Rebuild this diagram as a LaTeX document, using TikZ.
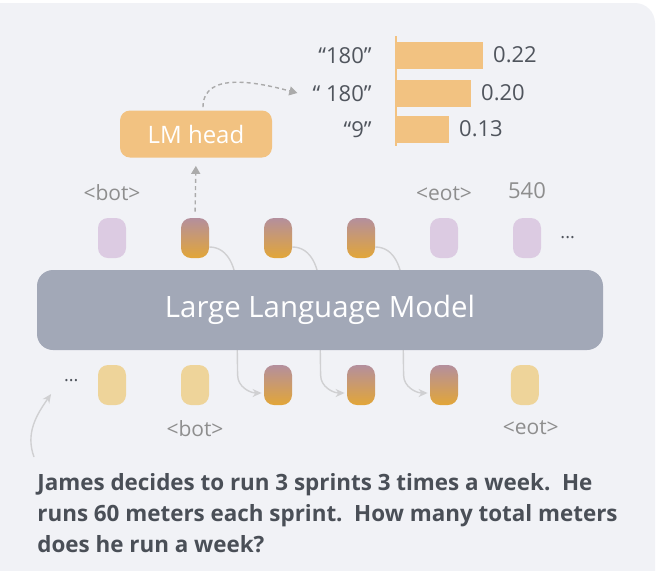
\documentclass[tikz,border=0pt]{standalone}
\usepackage{fontspec}
\setmainfont{Open Sans}
\usepackage{xcolor}
\usetikzlibrary{positioning, arrows.meta, calc}

\definecolor{bgcol}{HTML}{F1F2F6}
\definecolor{lavtok}{HTML}{DCCBE2}
\definecolor{yeltok}{HTML}{EED49A}
\definecolor{gradtop}{HTML}{B48F9D}
\definecolor{gradbot}{HTML}{E2A638}
\definecolor{llmcol}{HTML}{A2A8B7}
\definecolor{barcol}{HTML}{F2C281}
\definecolor{tagcol}{HTML}{8E8E8E}
\definecolor{valcol}{HTML}{50555D}
\definecolor{qcol}{HTML}{4A4F57}
\definecolor{flowcol}{HTML}{D0D0D2}
\definecolor{dashcol}{HTML}{ABABAB}

\begin{document}
\begin{tikzpicture}[
    x=0.5pt, y=-0.5pt,
    tok/.style={rounded corners=5pt, minimum width=14pt, minimum height=20pt, inner sep=0pt},
    plain/.style={tok, fill=lavtok},
    inp/.style={tok, fill=yeltok},
    hid/.style={tok, top color=gradtop, bottom color=gradbot},
    tag/.style={text=tagcol, font=\fontsize{10.5}{12}\selectfont, inner sep=0pt},
    val/.style={text=valcol, font=\fontsize{11}{13}\selectfont, inner sep=0pt},
    bar/.style={fill=barcol, minimum height=13.5pt, inner sep=0pt, anchor=west},
    flow/.style={-{Stealth[length=4.5pt, width=4pt]}, draw=flowcol, line width=0.7pt},
    dashflow/.style={-{Triangle[length=4pt, width=4.5pt]}, draw=dashcol, dash pattern=on 2pt off 1.6pt, line width=0.7pt}
]
\useasboundingbox (0,0) rectangle (660,570);
\fill[bgcol, rounded corners=10pt] (-20,3) rectangle (655,600);

% Model output tokens
\node[plain] (t1) at (112,238) {};
\node[hid, right=27.1pt of t1] (t2) {};
\node[hid, right=27.1pt of t2] (t3) {};
\node[hid, right=27.1pt of t3] (t4) {};
\node[plain, right=27.1pt of t4] (t5) {};
\node[plain, right=27.1pt of t5] (t6) {};
\node[text=valcol, font=\small, right=6pt of t6] (dotsR) {...};

% Model input tokens
\node[inp] (b1) at (112,385) {};
\node[inp, right=27.1pt of b1] (b2) {};
\node[hid, right=27.1pt of b2] (b3) {};
\node[hid, right=27.1pt of b3] (b4) {};
\node[hid, right=27.1pt of b4] (b5) {};
\node[inp, right=26pt of b5] (b6) {};
\node[text=valcol, font=\small, left=6pt of b1, yshift=2pt] (dotsL) {...};

% Hidden states fed back (behind the model)
\draw[flow] ($(t2.east)+(0,9)$) to[out=0, in=90] ($(t2.east)+(27,50)$) -- ($(b3.west)+(-26,-10)$) to[out=-90, in=180] ($(b3.west)+(-2,8)$);
\draw[flow] ($(t3.east)+(0,9)$) to[out=0, in=90] ($(t3.east)+(27,50)$) -- ($(b4.west)+(-26,-10)$) to[out=-90, in=180] ($(b4.west)+(-2,8)$);
\draw[flow] ($(t4.east)+(0,9)$) to[out=0, in=90] ($(t4.east)+(27,50)$) -- ($(b5.west)+(-26,-10)$) to[out=-90, in=180] ($(b5.west)+(-2,8)$);

% Model
\node[fill=llmcol, rounded corners=8pt, minimum width=283pt, minimum height=40pt, text=white, font=\fontsize{14.7}{17}\selectfont] (llm) at (320,310) {Large Language Model};

% Token labels
\node[tag, above=8.5pt of t1] (bot1) {<bot>};
\node[tag, above=8.5pt of t5] (eot1) {<eot>};
\node[tag, above=9pt of t6, font=\fontsize{11}{13}\selectfont] (ans) {540};
\node[tag, below=7.5pt of b2] (bot2) {<bot>};
\node[tag, below=7.5pt of b6, xshift=3pt] (eot2) {<eot>};

% LM head
\node[fill=barcol, rounded corners=5pt, minimum width=76pt, minimum height=23.5pt, text=white, font=\fontsize{12}{14}\selectfont] (lmhead) at (196,134) {LM head};
\draw[dashflow, shorten <=3pt, shorten >=4pt] (t2.north) -- (lmhead.south);

% Next-token probabilities
\coordinate (axtop) at (396,36);
\coordinate (axbot) at (396,146);
\node[bar, minimum width=43.5pt] (bar1) at (396,55) {};
\node[bar, minimum width=37.5pt] (bar2) at (396,93) {};
\node[bar, minimum width=26.5pt] (bar3) at (396,129) {};
\draw[barcol, line width=1.3pt] (axtop) -- (axbot);
\node[val, right=4.5pt of bar1] (p1) {0.22};
\node[val, right=4.5pt of bar2] (p2) {0.20};
\node[val, right=4.5pt of bar3] (p3) {0.13};
\node[val, anchor=east] (w1) at (372,56) {``180''};
\node[val, anchor=east] (w2) at (372,94) {`` 180''};
\node[val, anchor=east] (w3) at (372,130) {``9''};
\draw[dashflow] ($(lmhead.north)+(7,-3)$) to[out=90, in=165] ($(w2.west)+(-15,-1)$);

% Question
\node[anchor=north west, align=left, inner sep=0pt, text=qcol, font=\fontsize{11.2}{15.5}\selectfont\bfseries] (q) at (37,473)
  {James decides to run 3 sprints 3 times a week.\ \ He\\runs 60 meters each sprint.\ \ How many total meters\\does he run a week?};
\draw[flow] ($(q.north west)+(-3,-16)$) to[out=110, in=235] ($(dotsL.west)+(-6,13)$);

\end{tikzpicture}
\end{document}
